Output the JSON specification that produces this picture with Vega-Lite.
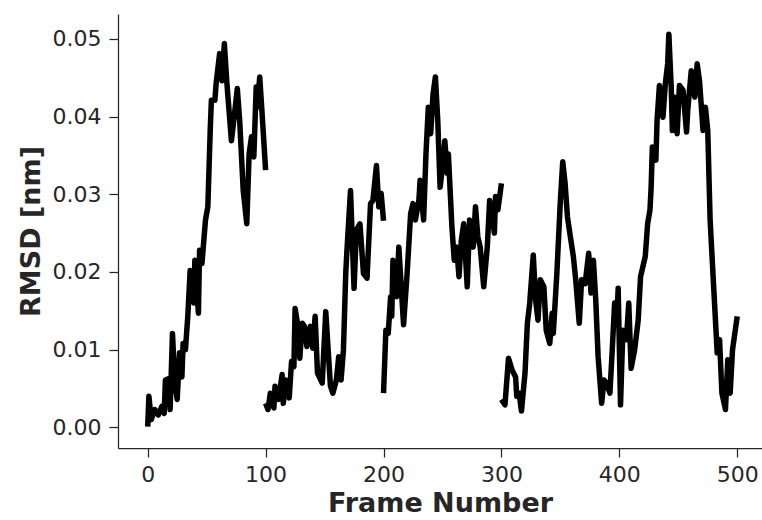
{
  "$schema": "https://vega.github.io/schema/vega-lite/v6.json",
  "width": 644,
  "height": 434,
  "autosize": "none",
  "padding": {"left": 118, "top": 14, "right": 0, "bottom": 72},
  "background": "white",
  "config": {
    "view": {"stroke": null},
    "axis": {
      "grid": false,
      "domainColor": "#262626",
      "domainWidth": 1.25,
      "tickColor": "#262626",
      "tickWidth": 1.25,
      "tickSize": 9,
      "labelFont": "DejaVu Sans",
      "labelFontSize": 22,
      "labelColor": "#262626",
      "titleFont": "DejaVu Sans",
      "titleFontSize": 27,
      "titleFontWeight": "bold",
      "titleColor": "#262626"
    }
  },
  "data": {"values": [
    {"s":1,"f":0,"y":0.0001},{"s":1,"f":1,"y":0.0040},{"s":1,"f":3,"y":0.0010},{"s":1,"f":6,"y":0.0023},{"s":1,"f":9,"y":0.0016},{"s":1,"f":12,"y":0.0027},{"s":1,"f":14,"y":0.0018},{"s":1,"f":15,"y":0.0061},{"s":1,"f":18,"y":0.0063},{"s":1,"f":19,"y":0.0023},{"s":1,"f":21,"y":0.0121},{"s":1,"f":23,"y":0.0057},{"s":1,"f":25,"y":0.0036},{"s":1,"f":27,"y":0.0096},{"s":1,"f":29,"y":0.0065},{"s":1,"f":30,"y":0.0108},{"s":1,"f":32,"y":0.0100},{"s":1,"f":34,"y":0.0143},{"s":1,"f":36,"y":0.0202},{"s":1,"f":39,"y":0.0160},{"s":1,"f":40,"y":0.0215},{"s":1,"f":43,"y":0.0147},{"s":1,"f":44,"y":0.0228},{"s":1,"f":46,"y":0.0211},{"s":1,"f":49,"y":0.0267},{"s":1,"f":51,"y":0.0284},{"s":1,"f":53,"y":0.0382},{"s":1,"f":54,"y":0.0421},{"s":1,"f":57,"y":0.0421},{"s":1,"f":58,"y":0.0442},{"s":1,"f":61,"y":0.0481},{"s":1,"f":63,"y":0.0446},{"s":1,"f":65,"y":0.0494},{"s":1,"f":67,"y":0.0446},{"s":1,"f":71,"y":0.0369},{"s":1,"f":73,"y":0.0395},{"s":1,"f":76,"y":0.0436},{"s":1,"f":78,"y":0.0395},{"s":1,"f":81,"y":0.0305},{"s":1,"f":84,"y":0.0262},{"s":1,"f":86,"y":0.0352},{"s":1,"f":88,"y":0.0374},{"s":1,"f":90,"y":0.0348},{"s":1,"f":92,"y":0.0438},{"s":1,"f":93,"y":0.0412},{"s":1,"f":95,"y":0.0451},{"s":1,"f":97,"y":0.0404},{"s":1,"f":100,"y":0.0331},
    {"s":2,"f":100,"y":0.0031},{"s":2,"f":102,"y":0.0023},{"s":2,"f":104,"y":0.0044},{"s":2,"f":107,"y":0.0025},{"s":2,"f":108,"y":0.0053},{"s":2,"f":111,"y":0.0036},{"s":2,"f":114,"y":0.0068},{"s":2,"f":115,"y":0.0031},{"s":2,"f":117,"y":0.0061},{"s":2,"f":120,"y":0.0038},{"s":2,"f":122,"y":0.0085},{"s":2,"f":124,"y":0.0078},{"s":2,"f":125,"y":0.0153},{"s":2,"f":127,"y":0.0134},{"s":2,"f":129,"y":0.0089},{"s":2,"f":131,"y":0.0134},{"s":2,"f":133,"y":0.0130},{"s":2,"f":135,"y":0.0104},{"s":2,"f":138,"y":0.0130},{"s":2,"f":140,"y":0.0102},{"s":2,"f":142,"y":0.0143},{"s":2,"f":144,"y":0.0070},{"s":2,"f":148,"y":0.0057},{"s":2,"f":151,"y":0.0149},{"s":2,"f":155,"y":0.0053},{"s":2,"f":157,"y":0.0044},{"s":2,"f":160,"y":0.0061},{"s":2,"f":162,"y":0.0091},{"s":2,"f":164,"y":0.0061},{"s":2,"f":166,"y":0.0100},{"s":2,"f":168,"y":0.0200},{"s":2,"f":169,"y":0.0228},{"s":2,"f":172,"y":0.0305},{"s":2,"f":175,"y":0.0179},{"s":2,"f":177,"y":0.0254},{"s":2,"f":180,"y":0.0262},{"s":2,"f":183,"y":0.0198},{"s":2,"f":186,"y":0.0192},{"s":2,"f":189,"y":0.0288},{"s":2,"f":191,"y":0.0292},{"s":2,"f":194,"y":0.0337},{"s":2,"f":196,"y":0.0284},{"s":2,"f":198,"y":0.0301},{"s":2,"f":200,"y":0.0266},
    {"s":3,"f":200,"y":0.0044},{"s":3,"f":202,"y":0.0125},{"s":3,"f":204,"y":0.0121},{"s":3,"f":206,"y":0.0168},{"s":3,"f":207,"y":0.0143},{"s":3,"f":208,"y":0.0215},{"s":3,"f":211,"y":0.0168},{"s":3,"f":213,"y":0.0232},{"s":3,"f":215,"y":0.0181},{"s":3,"f":217,"y":0.0132},{"s":3,"f":220,"y":0.0198},{"s":3,"f":223,"y":0.0275},{"s":3,"f":225,"y":0.0288},{"s":3,"f":227,"y":0.0267},{"s":3,"f":230,"y":0.0292},{"s":3,"f":231,"y":0.0318},{"s":3,"f":234,"y":0.0267},{"s":3,"f":236,"y":0.0352},{"s":3,"f":238,"y":0.0412},{"s":3,"f":240,"y":0.0378},{"s":3,"f":242,"y":0.0429},{"s":3,"f":244,"y":0.0451},{"s":3,"f":246,"y":0.0395},{"s":3,"f":248,"y":0.0309},{"s":3,"f":250,"y":0.0335},{"s":3,"f":252,"y":0.0369},{"s":3,"f":254,"y":0.0327},{"s":3,"f":255,"y":0.0352},{"s":3,"f":258,"y":0.0258},{"s":3,"f":260,"y":0.0215},{"s":3,"f":262,"y":0.0232},{"s":3,"f":264,"y":0.0194},{"s":3,"f":266,"y":0.0241},{"s":3,"f":268,"y":0.0262},{"s":3,"f":271,"y":0.0181},{"s":3,"f":273,"y":0.0267},{"s":3,"f":276,"y":0.0232},{"s":3,"f":278,"y":0.0284},{"s":3,"f":280,"y":0.0245},{"s":3,"f":282,"y":0.0232},{"s":3,"f":285,"y":0.0181},{"s":3,"f":288,"y":0.0232},{"s":3,"f":290,"y":0.0292},{"s":3,"f":292,"y":0.0275},{"s":3,"f":294,"y":0.0250},{"s":3,"f":295,"y":0.0297},{"s":3,"f":297,"y":0.0280},{"s":3,"f":300,"y":0.0314},
    {"s":4,"f":300,"y":0.0036},{"s":4,"f":303,"y":0.0029},{"s":4,"f":306,"y":0.0089},{"s":4,"f":309,"y":0.0074},{"s":4,"f":312,"y":0.0065},{"s":4,"f":313,"y":0.0040},{"s":4,"f":315,"y":0.0044},{"s":4,"f":317,"y":0.0021},{"s":4,"f":320,"y":0.0070},{"s":4,"f":322,"y":0.0134},{"s":4,"f":324,"y":0.0160},{"s":4,"f":327,"y":0.0222},{"s":4,"f":329,"y":0.0164},{"s":4,"f":331,"y":0.0138},{"s":4,"f":333,"y":0.0190},{"s":4,"f":336,"y":0.0181},{"s":4,"f":338,"y":0.0125},{"s":4,"f":341,"y":0.0108},{"s":4,"f":343,"y":0.0147},{"s":4,"f":344,"y":0.0121},{"s":4,"f":347,"y":0.0198},{"s":4,"f":350,"y":0.0292},{"s":4,"f":352,"y":0.0342},{"s":4,"f":354,"y":0.0314},{"s":4,"f":356,"y":0.0271},{"s":4,"f":358,"y":0.0250},{"s":4,"f":361,"y":0.0220},{"s":4,"f":363,"y":0.0190},{"s":4,"f":366,"y":0.0134},{"s":4,"f":368,"y":0.0190},{"s":4,"f":371,"y":0.0185},{"s":4,"f":374,"y":0.0224},{"s":4,"f":376,"y":0.0173},{"s":4,"f":378,"y":0.0215},{"s":4,"f":380,"y":0.0164},{"s":4,"f":382,"y":0.0091},{"s":4,"f":385,"y":0.0031},{"s":4,"f":387,"y":0.0061},{"s":4,"f":389,"y":0.0057},{"s":4,"f":392,"y":0.0044},{"s":4,"f":394,"y":0.0100},{"s":4,"f":396,"y":0.0160},{"s":4,"f":398,"y":0.0143},{"s":4,"f":399,"y":0.0179},{"s":4,"f":401,"y":0.0029},{"s":4,"f":403,"y":0.0125},{"s":4,"f":406,"y":0.0113},{"s":4,"f":408,"y":0.0160},{"s":4,"f":410,"y":0.0076},{"s":4,"f":413,"y":0.0100},{"s":4,"f":416,"y":0.0138},{"s":4,"f":418,"y":0.0194},{"s":4,"f":422,"y":0.0220},{"s":4,"f":424,"y":0.0262},{"s":4,"f":426,"y":0.0280},{"s":4,"f":427,"y":0.0310},{"s":4,"f":428,"y":0.0361},{"s":4,"f":431,"y":0.0344},{"s":4,"f":432,"y":0.0395},{"s":4,"f":434,"y":0.0440},{"s":4,"f":437,"y":0.0399},{"s":4,"f":439,"y":0.0442},{"s":4,"f":441,"y":0.0468},{"s":4,"f":442,"y":0.0506},{"s":4,"f":444,"y":0.0438},{"s":4,"f":445,"y":0.0382},{"s":4,"f":447,"y":0.0425},{"s":4,"f":449,"y":0.0378},{"s":4,"f":451,"y":0.0440},{"s":4,"f":454,"y":0.0434},{"s":4,"f":457,"y":0.0380},{"s":4,"f":458,"y":0.0408},{"s":4,"f":461,"y":0.0459},{"s":4,"f":464,"y":0.0425},{"s":4,"f":466,"y":0.0468},{"s":4,"f":468,"y":0.0446},{"s":4,"f":471,"y":0.0382},{"s":4,"f":473,"y":0.0412},{"s":4,"f":475,"y":0.0382},{"s":4,"f":477,"y":0.0267},{"s":4,"f":480,"y":0.0181},{"s":4,"f":483,"y":0.0096},{"s":4,"f":485,"y":0.0113},{"s":4,"f":487,"y":0.0044},{"s":4,"f":490,"y":0.0023},{"s":4,"f":492,"y":0.0087},{"s":4,"f":494,"y":0.0044},{"s":4,"f":496,"y":0.0100},{"s":4,"f":500,"y":0.0143}
  ]},
  "mark": {"type": "line", "color": "black", "strokeWidth": 5.5, "strokeJoin": "round", "strokeCap": "butt", "clip": true},
  "encoding": {
    "x": {
      "field": "f", "type": "quantitative", "title": "Frame Number",
      "scale": {"domain": [-25.2, 521], "nice": false, "zero": false},
      "axis": {"values": [0, 100, 200, 300, 400, 500], "labelPadding": 7, "titlePadding": 5}
    },
    "y": {
      "field": "y", "type": "quantitative", "title": "RMSD [nm]",
      "scale": {"domain": [-0.00265, 0.0532], "nice": false, "zero": false},
      "axis": {"values": [0, 0.01, 0.02, 0.03, 0.04, 0.05], "format": ".2f", "labelPadding": 8, "titlePadding": 7}
    },
    "detail": {"field": "s", "type": "nominal"}
  }
}
